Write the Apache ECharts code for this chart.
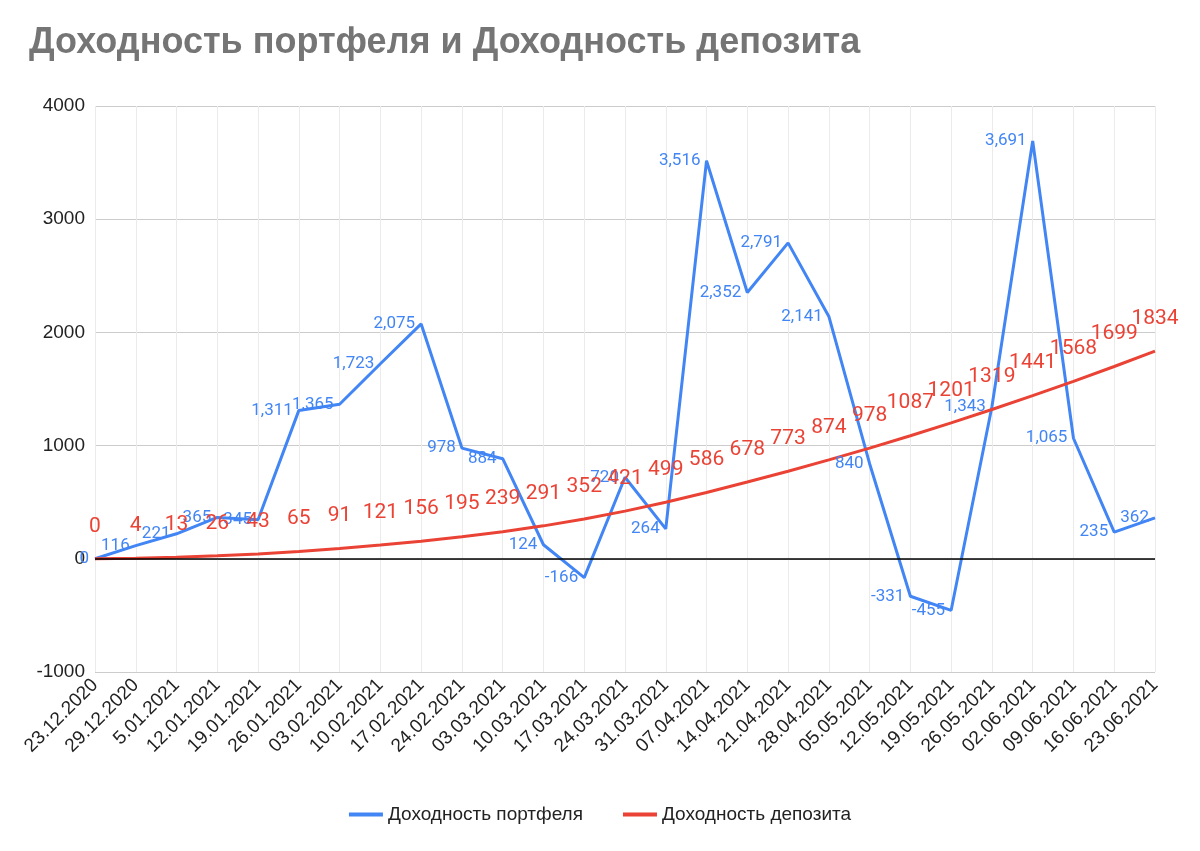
<!DOCTYPE html>
<html><head><meta charset="utf-8">
<script src="https://cdn.jsdelivr.net/npm/echarts@6/dist/echarts.min.js"></script>
<style>html,body{margin:0;padding:0;background:#fff}#c{width:1200px;height:851px}</style>
</head><body><div id="c"></div>
<script>
const categories = ['23.12.2020','29.12.2020','5.01.2021','12.01.2021','19.01.2021','26.01.2021','03.02.2021','10.02.2021','17.02.2021','24.02.2021','03.03.2021','10.03.2021','17.03.2021','24.03.2021','31.03.2021','07.04.2021','14.04.2021','21.04.2021','28.04.2021','05.05.2021','12.05.2021','19.05.2021','26.05.2021','02.06.2021','09.06.2021','16.06.2021','23.06.2021'];
const portfolio = [0,116,221,365,345,1311,1365,1723,2075,978,884,124,-166,720,264,3516,2352,2791,2141,840,-331,-455,1343,3691,1065,235,362];
const deposit = [0,4,13,26,43,65,91,121,156,195,239,291,352,421,499,586,678,773,874,978,1087,1201,1319,1441,1568,1699,1834];
const chart = echarts.init(document.getElementById('c'));
chart.setOption({
  animation:false,
  textStyle:{fontFamily:'Roboto, Arial, sans-serif'},
  title:{text:'Доходность портфеля и Доходность депозита',left:24,top:20,textStyle:{fontSize:36,fontWeight:'bold',color:'#757575',fontFamily:'Liberation Sans, Arial, sans-serif'}},
  legend:{bottom:22,left:'center',itemWidth:34,itemHeight:4,itemGap:40,icon:'rect',textStyle:{fontSize:19,color:'#222',fontFamily:'Liberation Sans, Arial, sans-serif'}},
  grid:{left:95,right:45,top:106,bottom:179},
  xAxis:{type:'category',data:categories,boundaryGap:false,
    axisLine:{show:false},axisTick:{show:false},
    splitLine:{show:true,lineStyle:{color:'#ebebeb'}},
    axisLabel:{rotate:45,fontSize:19,color:'#222',margin:10,interval:0,fontFamily:'Liberation Sans, Arial, sans-serif'}},
  yAxis:{type:'value',min:-1000,max:4000,interval:1000,
    axisLine:{show:false},axisTick:{show:false},
    splitLine:{lineStyle:{color:'#cccccc'}},
    axisLabel:{fontSize:19,color:'#222',margin:10,formatter:v=>String(v),fontFamily:'Liberation Sans, Arial, sans-serif'}},
  series:[
    {name:'Доходность портфеля',type:'line',data:portfolio,symbol:'circle',symbolSize:0.1,
     lineStyle:{width:3,color:'#4285f4'},itemStyle:{color:'#4285f4'},
     labelLayout:{hideOverlap:false},
     label:{show:true,position:'left',distance:6,fontSize:17,color:'#4285f4',
       formatter:p=>p.value.toLocaleString('en-US')},
     markLine:{silent:true,symbol:'none',label:{show:false},lineStyle:{color:'#000',width:1.5,type:'solid'},data:[{yAxis:0}]}},
    {name:'Доходность депозита',type:'line',data:deposit,symbol:'circle',symbolSize:0.1,
     lineStyle:{width:3,color:'#ea4335'},itemStyle:{color:'#ea4335'},
     labelLayout:{hideOverlap:false},
     label:{show:true,position:'top',distance:22,fontSize:21,color:'#ea4335'}}
  ]
});
</script></body></html>
